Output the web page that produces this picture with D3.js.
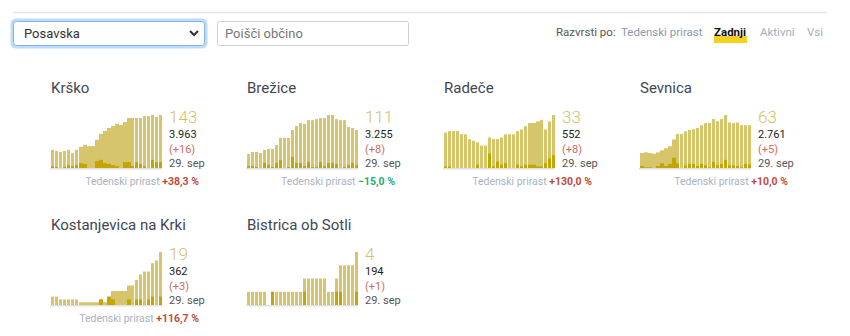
<!DOCTYPE html>
<html>
<head>
<meta charset="utf-8">
<script src="https://cdn.jsdelivr.net/npm/d3@7"></script>
<style>
  body { margin: 0; background: #fff; }
  svg text { font-family: Roboto, "Noto Sans", sans-serif; }
</style>
</head>
<body>
<div id="chart"></div>
<script>
// towns in the Posavska region, last 28 days
const towns = ["Krško", "Brežice", "Radeče", "Sevnica", "Kostanjevica na Krki", "Bistrica ob Sotli"]
const totals = [3963, 3255, 552, 2761, 362, 194]
const weekGrowth = [38.3, -15.0, 130.0, 10.0, 116.7, null]
const lastDate = "29. sep"

const activeKrsko = [49,46,43,46,49,40,49,57,62,59,59,76,92,100,108,113,119,116,124,135,135,135,135,140,140,143,138,143]
const newKrsko    = [5,3,0,3,8,5,8,13,11,0,0,19,22,13,11,8,5,0,16,16,5,16,11,5,0,22,16,16]
const activeBrezice = [41,47,47,44,53,56,56,67,88,88,88,111,123,131,129,140,140,143,146,146,155,155,143,140,140,120,117,111]
const newBrezice    = [6,6,3,0,15,9,3,15,23,0,3,32,15,15,6,18,3,3,18,6,15,15,12,0,3,9,15,8]
const activeRadece = [22,23,23,23,21,21,18,17,16,14,14,19,18,18,19,21,21,21,23,24,26,28,28,29,30,24,29,33]
const newRadece    = [1,1,0,0,0,0,0,0,2,0,0,9,1,4,2,3,0,0,2,1,2,2,2,1,1,3,6,8]
const activeSevnica = [22,23,22,21,23,26,29,32,42,50,50,54,56,57,59,63,66,66,72,69,72,78,67,66,67,63,63,63]
const newSevnica    = [3,1,1,0,3,7,3,6,15,7,0,4,6,6,3,6,4,1,9,4,6,12,4,4,3,1,6,5]
const activeKostanjevica = [3,3,2,2,2,2,2,1,1,1,1,1,2,1,3,5,5,5,5,7,7,9,11,12,12,15,16,19]
const newKostanjevica    = [0,0,0,0,0,0,0,0,0,0,0,0,2,0,3,2,0,0,0,2,0,2,2,0,2,3,0,3]
const activeBistrica = [1,1,1,1,1,0,1,1,1,1,1,1,1,1,2,2,2,2,2,2,1,1,2,3,3,3,3,4]
const newBistrica    = [0,0,0,0,0,0,1,0,0,0,0,0,0,0,1,0,0,0,0,0,0,0,1,1,0,0,0,1]

// days that run into the next one (no reported split)
const joinKrsko = [7,8,9,10,11,12,13,14,15,16,17,18,19]
const joinBrezice = []
const joinRadece = [21,22,23]
const joinSevnica = [0,1,2,3,4,5,6,7,8]
const joinKostanjevica = [7,8,9,10,11,12,13,14,15,16,17,18,19]
const joinBistrica = []

const actives = [activeKrsko, activeBrezice, activeRadece, activeSevnica, activeKostanjevica, activeBistrica]
const news = [newKrsko, newBrezice, newRadece, newSevnica, newKostanjevica, newBistrica]
const joins = [joinKrsko, joinBrezice, joinRadece, joinSevnica, joinKostanjevica, joinBistrica]

const width = 850, height = 336
const colX = [51, 247, 444, 640]
const rowBase = [168, 305]
const barsW = 111, barsH = 53

const sl = d3.formatLocale({decimal: ",", thousands: ".", grouping: [3], currency: ["", " €"]})
const fmtTotal = sl.format(",d")
const fmtGrowth = sl.format("+.1f")

const svg = d3.select("#chart").append("svg")
    .attr("width", width)
    .attr("height", height)

// top rule
svg.append("line")
    .attr("x1", 13).attr("x2", 827)
    .attr("y1", 12.5).attr("y2", 12.5)
    .attr("stroke", "#e3e3e3")
    .attr("stroke-width", 1.5)

// region select (focused)
svg.append("rect")
    .attr("x", 12).attr("y", 20).attr("width", 194).attr("height", 27)
    .attr("rx", 4)
    .attr("fill", "none")
    .attr("stroke", "#bcdcfb")
    .attr("stroke-width", 3)
svg.append("rect")
    .attr("x", 13.5).attr("y", 21.5).attr("width", 191).attr("height", 24)
    .attr("rx", 3)
    .attr("fill", "#fff")
    .attr("stroke", "#86b4e8")
svg.append("text")
    .attr("x", 24).attr("y", 38)
    .attr("font-size", 13)
    .attr("fill", "#333")
    .text("Posavska")
svg.append("path")
    .attr("d", "M190,31 L194,35 L198,31")
    .attr("fill", "none")
    .attr("stroke", "#333")
    .attr("stroke-width", 2)

// search box
svg.append("rect")
    .attr("x", 217.5).attr("y", 21.5).attr("width", 191).attr("height", 24)
    .attr("rx", 2)
    .attr("fill", "#fff")
    .attr("stroke", "#cfcfcf")
svg.append("text")
    .attr("x", 225).attr("y", 38)
    .attr("font-size", 13)
    .attr("fill", "#777")
    .text("Poišči občino")

// sort options
svg.append("rect")
    .attr("x", 714).attr("y", 36).attr("width", 33).attr("height", 7)
    .attr("fill", "#f6d21c")
const sortItems = [
  {t: "Razvrsti po:", x: 556, c: "#555", w: 400},
  {t: "Tedenski prirast", x: 621, c: "#8a9aae", w: 400},
  {t: "Zadnji", x: 714, c: "#111", w: 700},
  {t: "Aktivni", x: 760, c: "#a3aebd", w: 400},
  {t: "Vsi", x: 807, c: "#a3aebd", w: 400}
]
svg.selectAll("text.sort")
    .data(sortItems)
    .enter()
    .append("text")
    .attr("class", "sort")
    .attr("x", d => d.x)
    .attr("y", 36)
    .attr("font-size", 11.5)
    .attr("font-weight", d => d.w)
    .attr("fill", d => d.c)
    .text(d => d.t)

towns.forEach(function(name, i) {
    const x0 = colX[i % 4]
    const base = rowBase[Math.floor(i / 4)]
    const active = actives[i], added = news[i]
    const joined = new Set(joins[i])

    const g = svg.append("g")

    const x = d3.scaleBand()
        .domain(d3.range(active.length))
        .range([x0, x0 + barsW])
        .paddingInner(0.25)
        .paddingOuter(0)
    const y = d3.scaleLinear()
        .domain([0, d3.max(active)])
        .range([base, base - barsH])

    g.append("text")
        .attr("x", x0)
        .attr("y", base - 75)
        .attr("font-size", 15)
        .attr("fill", "#3e4752")
        .text(name)

    g.append("rect")
        .attr("x", x0 - 1).attr("y", base)
        .attr("width", barsW + 1).attr("height", 1.5)
        .attr("fill", "#e2e2e2")

    const w = d => joined.has(d) ? x.step() : x.bandwidth()

    g.selectAll("rect.active")
        .data(d3.range(active.length))
        .enter()
        .append("rect")
        .attr("x", d => x(d))
        .attr("y", d => y(active[d]))
        .attr("width", w)
        .attr("height", d => base - y(active[d]))
        .attr("fill", "#d7c56b")

    g.selectAll("rect.added")
        .data(d3.range(added.length))
        .enter()
        .append("rect")
        .attr("x", d => x(d))
        .attr("y", d => y(added[d]))
        .attr("width", w)
        .attr("height", d => base - y(added[d]))
        .attr("fill", "#c3a503")

    const tx = x0 + 118
    const last = active.length - 1
    g.append("text")
        .attr("x", tx).attr("y", base - 45)
        .attr("font-size", 17)
        .attr("font-weight", 300)
        .attr("fill", "#d4c26a")
        .text(active[last])
    g.append("text")
        .attr("x", tx).attr("y", base - 30)
        .attr("font-size", 11)
        .attr("fill", "#222")
        .text(fmtTotal(totals[i]))
    g.append("text")
        .attr("x", tx).attr("y", base - 15.5)
        .attr("font-size", 11)
        .attr("fill", "#cf6b60")
        .text("(+" + added[last] + ")")
    g.append("text")
        .attr("x", tx).attr("y", base - 1)
        .attr("font-size", 11)
        .attr("fill", "#555")
        .text(lastDate)

    if (weekGrowth[i] != null) {
        const t = g.append("text")
            .attr("x", x0 + 148)
            .attr("y", base + 17)
            .attr("font-size", 10.5)
            .attr("text-anchor", "end")
        t.append("tspan")
            .attr("fill", "#aab2bf")
            .text("Tedenski prirast ")
        t.append("tspan")
            .attr("font-weight", 700)
            .attr("fill", weekGrowth[i] < 0 ? "#1fae7a" : "#bf4a3c")
            .text(fmtGrowth(weekGrowth[i]) + " %")
    }
})
</script>
</body>
</html>
